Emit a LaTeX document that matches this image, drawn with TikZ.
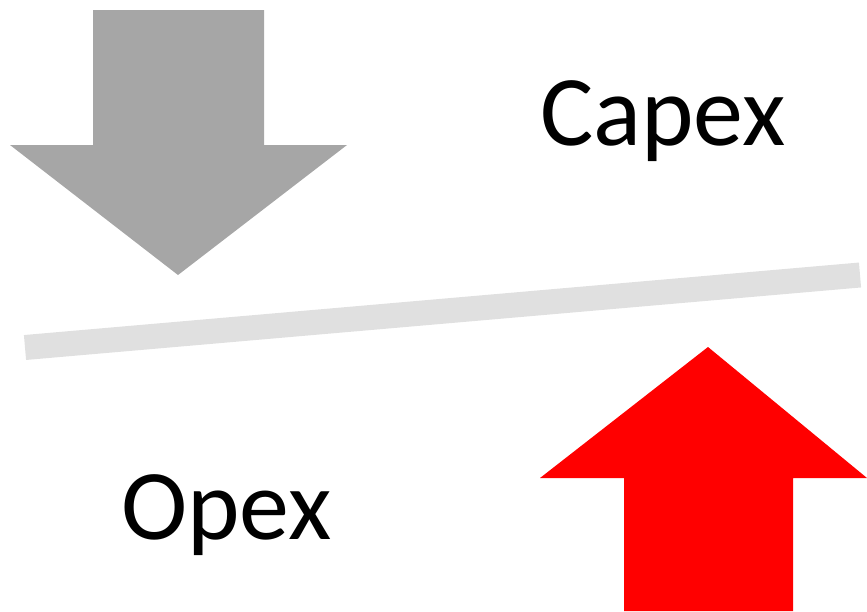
\documentclass[tikz,border=0pt]{standalone}
\usepackage{fontspec}
\setmainfont{Carlito}
\definecolor{arrowgray}{HTML}{A6A6A6}
\definecolor{beamgray}{HTML}{E0E0E0}
\definecolor{arrowred}{HTML}{FF0000}
\begin{document}
\begin{tikzpicture}[x=1pt,y=-1pt,
  lbl/.style={anchor=base west,inner sep=0pt,font=\fontsize{100}{110}\selectfont}]
\useasboundingbox (0,0) rectangle (867,611);
% gray down arrow
\fill[arrowgray] (93,10) -- (264,10) -- (264,145) -- (347,145) -- (178,275) -- (10,145) -- (93,145) -- cycle;
% beam
\draw[beamgray,line width=25pt] (25,347.5) -- (860,275);
% red up arrow
\fill[arrowred] (624,611) -- (793,611) -- (793,478) -- (867,478) -- (708,347) -- (540,478) -- (624,478) -- cycle;
\node[lbl] (capex) at (540,145) {Capex};
\node[lbl] (opex) at (121,539) {Opex};
\end{tikzpicture}
\end{document}
